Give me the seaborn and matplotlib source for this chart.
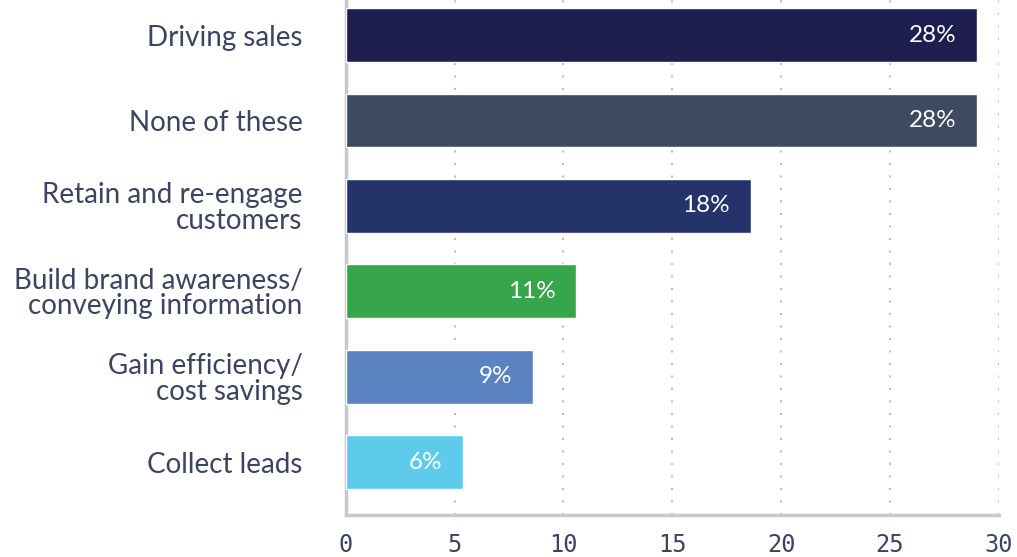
import pandas as pd
import numpy as np
import matplotlib.pyplot as plt
import seaborn as sns

# Chart data
categories = ["Driving sales", "None of these", "Retain and re-engage\ncustomers",
              "Build brand awareness/\nconveying information", "Gain efficiency/\ncost savings",
              "Collect leads"]
values = [29.0, 29.0, 18.6, 10.6, 8.6, 5.4]
labels = ["28%", "28%", "18%", "11%", "9%", "6%"]
colors = ["#1e1f4f", "#3d4a60", "#24346a", "#37a64a", "#5b82c1", "#5ecbec"]
xticks = [0, 5, 10, 15, 20, 25, 30]

df = pd.DataFrame({"category": categories, "value": values})

sns.set_style("white")
plt.rcParams['font.family'] = ['Lato', 'DejaVu Sans']

fig = plt.figure(figsize=(10.17, 5.57), dpi=100)
ax = fig.add_axes([0.340, 0.0754, 0.642, 0.9246])

sns.barplot(data=df, x="value", y="category", hue="category", palette=colors,
            orient="h", width=0.63, saturation=1, legend=False, ax=ax, zorder=3)

ax.set_xlim(0, 30)
ax.set_ylim(5.62, -0.41)
ax.set_xticks(xticks)
ax.set_xticklabels([str(t) for t in xticks], family="DejaVu Sans Mono",
                   fontsize=17, color="#3b4460")
ax.tick_params(axis="x", length=0, pad=13)
ax.tick_params(axis="y", length=0, pad=31, labelsize=20, labelcolor="#3b4460")
for t in ax.get_yticklabels():
    t.set_linespacing(0.98)
ax.set_xlabel("")
ax.set_ylabel("")

# dotted vertical grid
ax.xaxis.grid(True, linestyle=(0, (1, 5)), color="#bdbdc9", linewidth=1.5, zorder=0)
ax.yaxis.grid(False)

for s in ["top", "right"]:
    ax.spines[s].set_visible(False)
for s in ["left", "bottom"]:
    ax.spines[s].set_color("#c8c7d3")
    ax.spines[s].set_linewidth(2.5)

# value labels inside bars
for i, (v, lab) in enumerate(zip(values, labels)):
    ax.annotate(lab, xy=(v, i), xytext=(-15, 0), textcoords="offset points",
                ha="right", va="center", color="white", fontsize=17.5, zorder=4)

plt.savefig("out.png", dpi=100)
plt.close()
